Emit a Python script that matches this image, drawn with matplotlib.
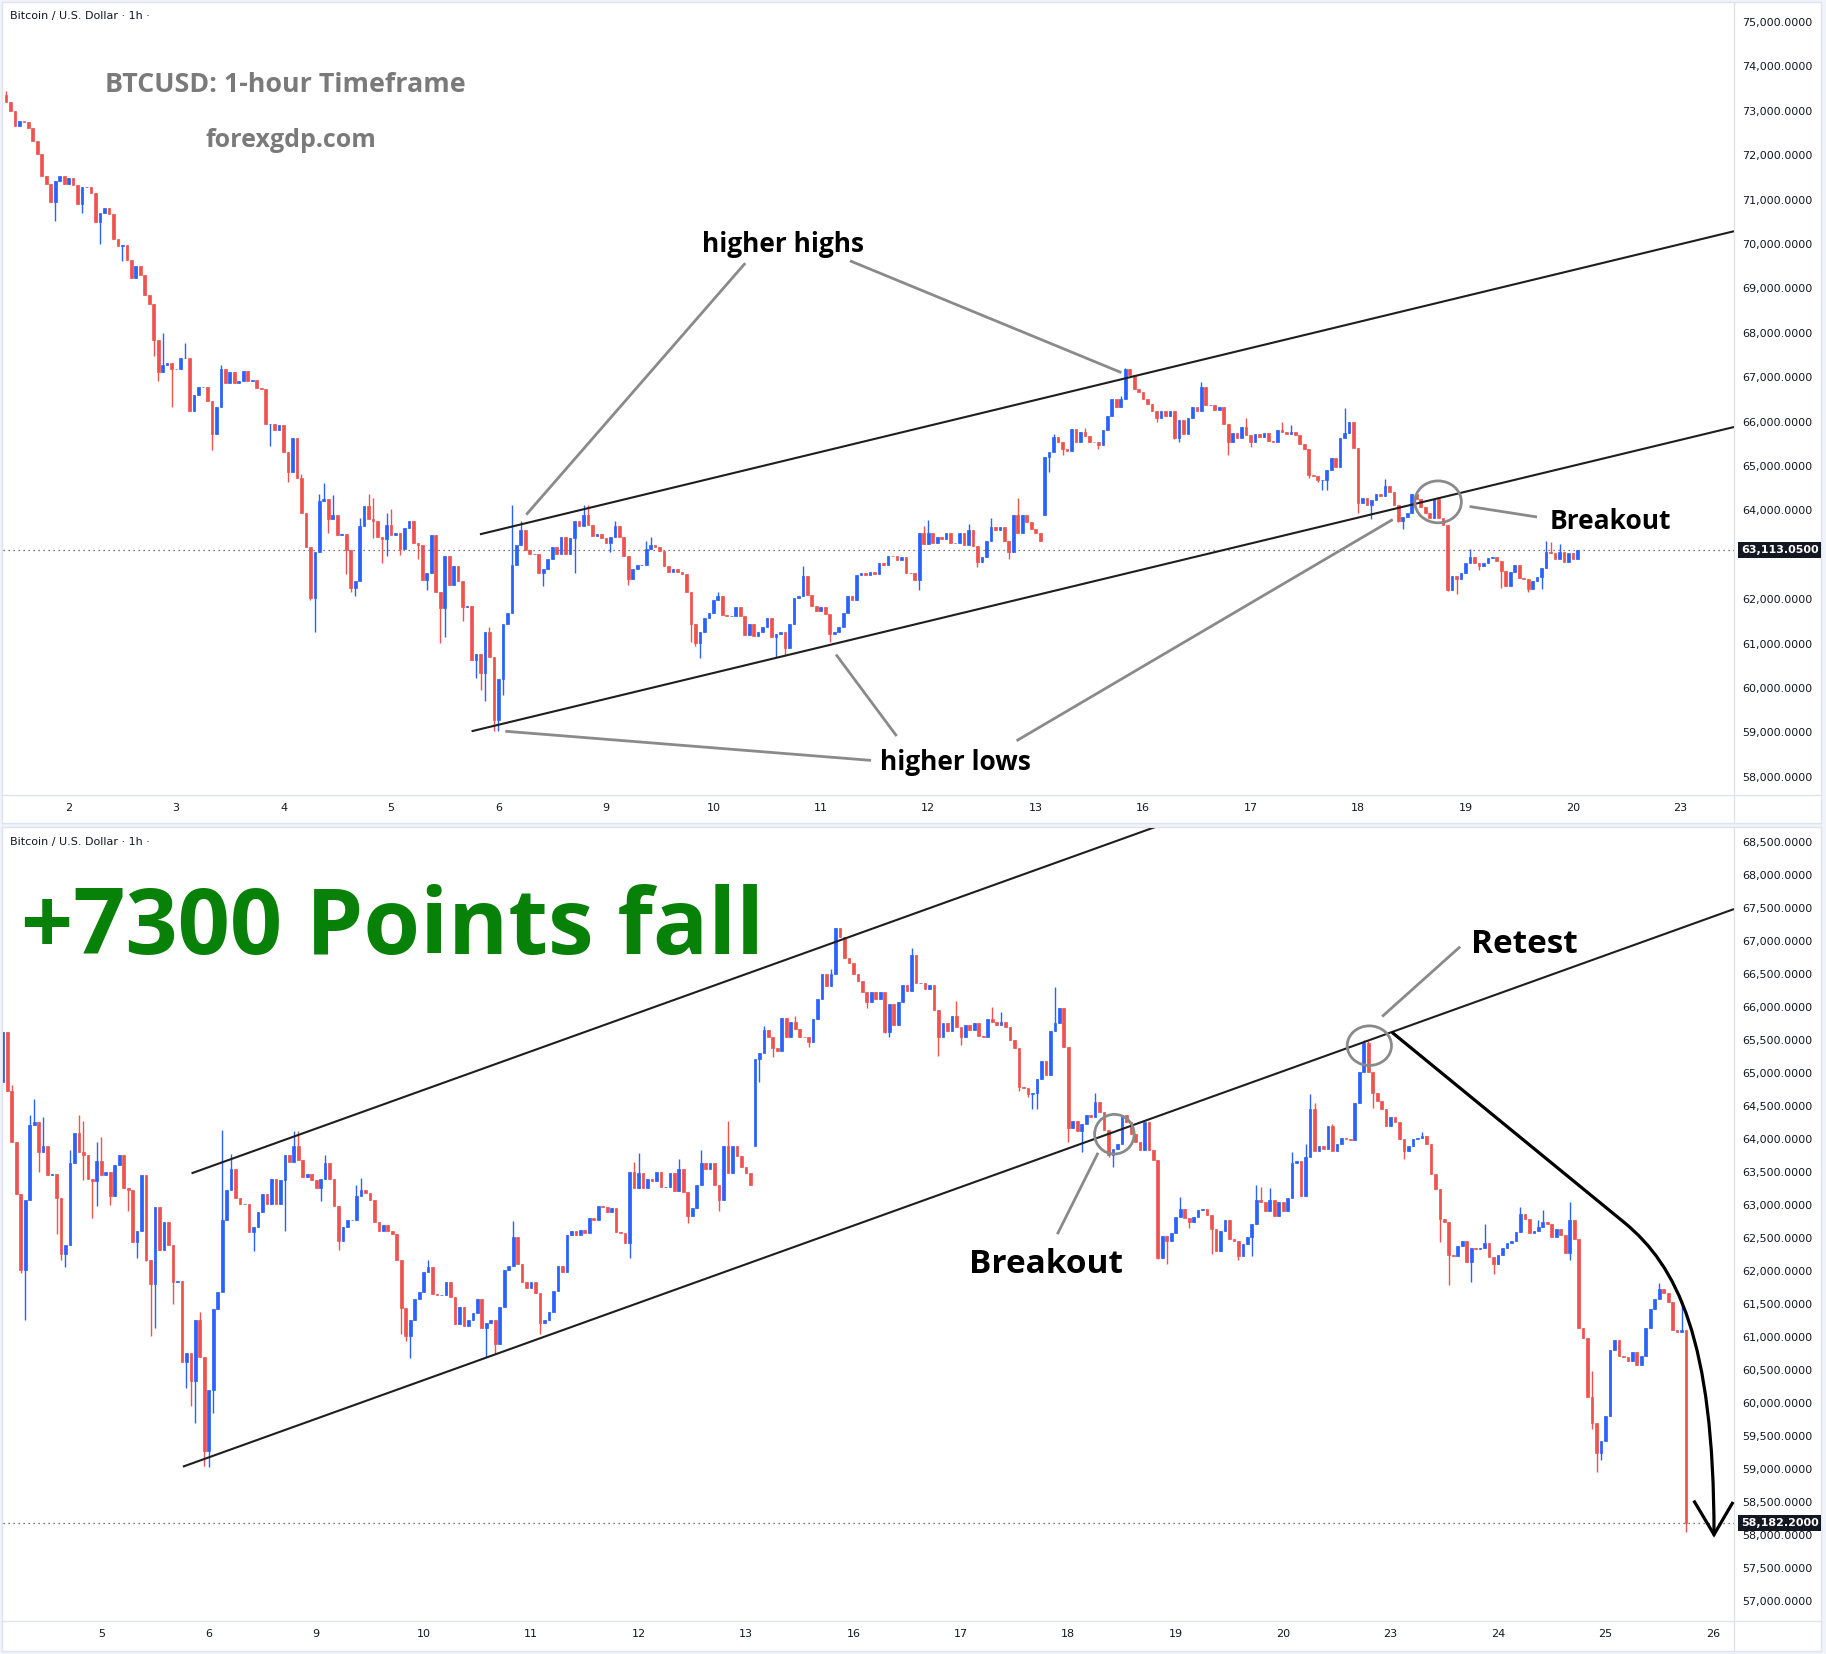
import numpy as np
import matplotlib.pyplot as plt
from matplotlib.patches import Ellipse, Rectangle, PathPatch
from matplotlib.lines import Line2D
from matplotlib.path import Path
from matplotlib.ticker import FuncFormatter

# hourly BTCUSD candles, prices in hundreds of USD
# hour 0 = midnight of the "2" on the top time axis
first_hour = -14
first_open = 733.6
closes = [
    732.0, 729.9, 726.6, 727.8, 727.6, 726.1, 723.2, 720.3, 715.3, 713.6,
    709.5, 714.2, 715.3, 713.6, 714.9, 713.2, 709.0, 712.8, 712.8, 711.4,
    705.0, 707.0, 708.2, 706.7, 701.1, 699.5, 699.7, 696.5, 692.4, 695.0,
    693.0, 688.6, 686.4, 678.4, 671.1, 672.8, 673.2, 671.9, 671.9, 674.4,
    674.4, 662.3, 666.1, 667.9, 667.9, 664.7, 657.2, 663.3, 671.9, 668.6,
    671.1, 668.6, 669.2, 671.5, 669.2, 669.4, 667.5, 667.3, 659.4, 659.4,
    658.2, 659.2, 653.2, 648.6,
    656.2, 647.3, 639.5, 631.7, 620.2, 630.7, 642.1, 642.6, 638.1, 639.0,
    634.5, 634.7, 631.0, 622.6, 624.0, 636.4, 640.9, 638.1, 637.5, 634.0,
    633.6, 636.6, 634.5, 635.0, 631.3, 636.1, 637.5, 632.6, 632.2, 624.4,
    626.0, 634.5, 621.7, 618.1, 629.7, 623.2, 627.4, 624.0, 618.3, 618.5,
    606.2, 607.6, 603.3, 612.6, 606.9, 592.8, 602.0, 614.3, 616.8, 627.7,
    632.3, 635.5, 631.1, 630.2, 630.2, 625.9, 626.7, 629.0, 631.7, 630.1,
    633.9, 630.1, 633.8, 637.5, 636.5, 638.9, 636.8, 634.2, 634.7, 633.8,
    632.6, 634.0, 636.4, 634.0, 629.8, 624.5, 626.7, 627.8, 627.8, 631.3,
    632.3, 631.8, 630.8, 627.4, 626.1, 626.9, 626.1, 625.6, 621.6, 614.4,
    610.1, 612.6, 615.8, 616.8, 619.9, 620.6, 616.5, 616.3, 616.3, 618.3,
    616.1, 611.9, 614.5, 611.7, 612.5, 613.7, 615.8, 611.4, 612.1, 612.6,
    609.0, 614.5, 620.2, 620.7, 625.2, 621.0, 618.4, 617.4, 618.3, 616.6,
    612.1, 612.5, 613.8, 616.9, 620.7, 619.9, 625.4, 626.0, 625.4, 626.2,
    625.7, 628.1, 627.8, 629.8, 629.7, 628.9, 629.6, 625.9, 625.8, 624.3,
    635.0, 632.5, 634.8, 632.6, 634.0, 633.6, 635.0, 632.7, 632.7, 634.8,
    632.1, 635.5, 631.9, 628.4, 629.6, 633.1, 636.3, 635.5, 636.3, 633.1,
    630.7, 638.9, 634.9, 638.9, 637.4, 635.8, 634.9, 633.0, 652.1, 653.1,
    656.5, 655.5, 653.8, 653.3, 658.4, 655.4, 657.7, 656.7, 655.5, 655.4,
    654.7, 658.2, 661.2, 665.0, 663.2, 665.0, 671.9, 670.6, 667.4, 666.7,
    665.0, 663.9, 662.3, 660.8, 662.3, 661.2, 662.3, 656.2, 660.4, 657.2,
    660.7, 663.3, 662.4, 667.9, 663.7, 663.7, 662.7, 663.4, 659.5, 655.4,
    657.5, 656.4, 658.7, 657.0, 655.5, 657.2, 656.5, 657.5, 655.6, 655.5,
    658.2, 657.7, 657.2, 657.7, 656.9, 655.0, 653.8, 647.9, 647.8, 646.8,
    646.9, 649.1, 651.8, 649.7, 656.4, 657.5, 659.9, 654.0, 641.7, 642.8,
    641.2, 642.3, 643.6, 643.3, 645.6, 644.1, 641.3, 637.5, 638.5, 639.3,
    643.6, 642.6, 640.7, 639.5, 638.3, 642.5, 638.3, 636.8, 622.0, 625.3,
    624.5, 625.8, 628.2, 629.4, 628.1, 627.4, 628.2, 629.2, 629.4, 628.5,
    626.3, 623.0, 626.1, 627.7, 624.8, 624.6, 622.3, 624.1, 625.1, 627.1,
    630.7, 630.5, 629.1, 630.7, 628.3, 630.5, 629.1, 631.1, 636.4, 636.6,
    631.4, 637.3, 644.5, 638.2, 638.9, 638.5, 641.9, 638.2, 639.2, 640.2,
    640.0, 639.9, 645.4, 650.2, 654.5, 650.2, 647.0, 645.7, 644.6, 641.9,
    643.4, 642.5, 640.0, 638.2, 638.9, 640.0, 640.2, 640.5, 639.2, 634.7,
    632.4, 627.9, 627.4, 622.4, 622.3, 623.8, 624.5, 621.3, 623.5, 623.3,
    623.5, 624.3, 622.1, 621.0, 622.4, 623.5, 624.3, 624.5, 625.9, 628.7,
    627.9, 625.7, 626.1, 626.7, 627.4, 627.1, 625.2, 626.4, 625.4, 622.8,
    627.8, 624.8, 611.4, 609.8, 600.9, 597.0, 592.4, 594.3, 598.0, 608.1,
    609.6, 607.1, 606.9, 606.4, 607.8, 605.8, 607.1, 611.4, 614.3, 615.7,
    617.3, 616.6, 615.3, 611.1, 610.8, 611.0, 581.8,
]
gap_open = {218: 639.0}
wick_high = {
    -14: 734.5, 21: 679.9, 26: 677.8, 34: 672.7, 52: 648.2, 56: 643.7,
    57: 646.1, 59: 643.4, 65: 638.3, 67: 643.7, 68: 642.7, 71: 639.5,
    72: 640.3, 94: 613.8, 99: 641.3, 101: 637.7, 115: 641.2, 116: 641.2,
    122: 637.6, 129: 633.1, 130: 634.1, 145: 621.6, 164: 627.5, 191: 636.5,
    192: 637.9, 201: 637.0, 206: 638.3, 212: 642.7, 220: 657.1, 227: 658.6,
    235: 665.7, 236: 672.0, 237: 671.8, 253: 669.0, 263: 660.9, 271: 660.0,
    273: 659.2, 285: 663.0, 294: 647.0, 313: 631.2, 330: 633.1, 331: 632.8,
    333: 632.5, 338: 638.0, 341: 639.3, 342: 646.8, 343: 645.4, 347: 642.3,
    354: 655.0, 355: 654.8, 367: 641.1, 381: 627.1, 389: 629.7, 393: 627.7,
    394: 629.2, 400: 630.5, 405: 604.9, 420: 618.2, 425: 615.6,
}
wick_low = {
    -3: 705.3, 3: 707.0, 7: 700.0, 12: 696.1, 19: 674.8, 20: 669.2,
    23: 663.3, 32: 653.6, 45: 654.4, 49: 646.5, 54: 619.7, 55: 612.5,
    58: 635.0, 62: 625.6, 63: 621.6, 64: 620.6, 68: 633.8, 70: 628.1,
    71: 629.8, 74: 630.0, 78: 629.1, 80: 622.0, 82: 621.5, 83: 610.2,
    84: 611.4, 88: 615.0, 91: 602.3, 92: 599.5, 93: 597.0, 95: 590.4,
    96: 590.3, 97: 598.5, 106: 623.0, 113: 626.0, 121: 630.6, 125: 623.2,
    139: 610.4, 140: 609.4, 141: 606.8, 158: 606.9, 160: 607.4, 170: 610.4,
    190: 622.0, 203: 627.2, 210: 629.1, 219: 648.6, 222: 652.4, 230: 653.9,
    243: 659.9, 247: 656.0, 248: 655.5, 259: 652.5, 264: 654.3, 277: 647.3,
    279: 646.4, 280: 644.5, 281: 644.6, 288: 639.5, 291: 638.0, 297: 637.3,
    298: 635.8, 308: 621.8, 310: 621.1, 315: 626.5, 320: 622.6, 326: 621.7,
    329: 622.2, 338: 633.8, 341: 631.8, 356: 644.7, 363: 636.9, 371: 624.4,
    373: 617.9, 378: 618.3, 383: 619.5, 400: 621.6, 405: 596.0, 406: 589.5,
    407: 591.4, 426: 580.5,
}

top_last_hour = 337
top_last_price = 63113.05
bottom_last_price = 58182.20

top_day_labels = ['2', '3', '4', '5', '6', '9', '10', '11', '12', '13',
                  '16', '17', '18', '19', '20', '23']
bottom_day_labels = ['5', '6', '9', '10', '11', '12', '13', '16', '17', '18',
                     '19', '20', '23', '24', '25', '26']
# 63,000 sits under the last-price tag in the top pane
top_price_ticks = [p for p in range(58000, 75001, 1000) if p != 63000]
bottom_price_ticks = list(range(57000, 68501, 500))

BLUE = '#2962ff'
RED = '#ef5350'
TXT = '#131722'
SEP = '#e0e3eb'
GRAY = '#8a8a8a'
W, H = 1826, 1654

hours = np.arange(first_hour, first_hour + len(closes))
x = hours / 24.0
c = np.array(closes) * 100
o = np.r_[first_open, closes[:-1]] * 100
for h, v in gap_open.items():
    o[h - first_hour] = v * 100
hi = np.maximum(o, c)
lo = np.minimum(o, c)
for h, v in wick_high.items():
    hi[h - first_hour] = max(hi[h - first_hour], v * 100)
for h, v in wick_low.items():
    lo[h - first_hour] = min(lo[h - first_hour], v * 100)
col = np.where(c >= o, BLUE, RED)

fig = plt.figure(figsize=(W / 100, H / 100), dpi=100, facecolor='#f0f3fa')


def px(xp, yp):
    return xp / W, 1 - yp / H


def frac(x0, y0, x1, y1):
    return [x0 / W, 1 - y1 / H, (x1 - x0) / W, (y1 - y0) / H]


# panel backgrounds and separators
for y0, y1 in [(2, 823), (827, 1651)]:
    fig.add_artist(Rectangle(px(2, y1), 1819 / W, (y1 - y0) / H, transform=fig.transFigure,
                             facecolor='white', edgecolor=SEP, lw=1, zorder=-5))
for (xa, ya), (xb, yb) in [((1734, 3), (1734, 822)), ((1734, 828), (1734, 1650)),
                           ((3, 795), (1820, 795)), ((3, 1621), (1820, 1621))]:
    fig.add_artist(Line2D([xa / W, xb / W], [1 - ya / H, 1 - yb / H],
                          transform=fig.transFigure, color=SEP, lw=1, zorder=-4))


def panel(rect, xlim, ylim, xticks, xlabels, yticks):
    ax = fig.add_axes(rect)
    ax.set_xlim(xlim)
    ax.set_ylim(ylim)
    ax.set_facecolor('none')
    for s in ax.spines.values():
        s.set_visible(False)
    ax.yaxis.tick_right()
    ax.set_yticks(yticks)
    ax.yaxis.set_major_formatter(FuncFormatter(lambda v, p: f'{v:,.4f}'))
    ax.set_xticks(xticks)
    ax.set_xticklabels(xlabels)
    ax.tick_params(axis='y', length=0, pad=6, labelsize=8, labelcolor=TXT)
    ax.tick_params(axis='x', length=0, pad=6, labelsize=8, labelcolor=TXT)
    return ax


def draw_candles(ax, sel):
    ax.vlines(x[sel], lo[sel], hi[sel], colors=col[sel], linewidth=1.0, zorder=2)
    ax.bar(x[sel], np.abs(c - o)[sel], bottom=np.minimum(o, c)[sel], width=0.6 / 24,
           color=col[sel], edgecolor=col[sel], linewidth=0.5, zorder=3)


def price_tag(ax, price):
    ax.axhline(price, color='#4a4a4a', lw=0.9, ls=(0, (1, 3)), zorder=1)
    ax.text(1.004, price, f'{price:,.4f}', transform=ax.get_yaxis_transform(),
            ha='left', va='center', fontsize=8, color='white', fontweight='bold',
            bbox=dict(boxstyle='square,pad=0.25', fc=TXT, ec='none'),
            clip_on=False, zorder=10)


def seg(ax, p0, p1, color=GRAY, lw=2.0):
    ax.plot([p0[0], p1[0]], [p0[1], p1[1]], color=color, lw=lw, zorder=5,
            solid_capstyle='butt')


# ---------------- top panel ----------------
ax1 = panel(frac(3, 3, 1734, 795), (-0.611, 15.499), (57588, 75430),
            np.arange(len(top_day_labels)), top_day_labels, top_price_ticks)
draw_candles(ax1, hours <= top_last_hour)
price_tag(ax1, top_last_price)

seg(ax1, (3.828, 63461), (15.499, 63461 + 585 * (15.499 - 3.828)), color='#1e1e1e', lw=1.5)
seg(ax1, (3.75, 59024), (15.499, 65878), color='#1e1e1e', lw=1.5)
seg(ax1, (6.297, 69570), (4.259, 63904))
seg(ax1, (7.272, 69622), (9.797, 67104))
seg(ax1, (7.467, 58368), (4.064, 59024))
seg(ax1, (7.142, 60752), (7.706, 58916))
seg(ax1, (8.822, 58810), (12.323, 63794))
seg(ax1, (13.038, 64087), (13.666, 63851))
ax1.add_patch(Ellipse((12.745, 64192), 0.4335, 944, fill=False, ec=GRAY, lw=2, zorder=5))

# ---------------- bottom panel ----------------
ax2 = panel(frac(3, 828, 1734, 1621), (2.085, 18.196), (56697, 68712),
            np.arange(3, 3 + len(bottom_day_labels)), bottom_day_labels, bottom_price_ticks)
draw_candles(ax2, hours >= 48)
price_tag(ax2, bottom_last_price)

seg(ax2, (3.84, 63480), (13.5, 63480 + 585 * (13.5 - 3.84)), color='#1e1e1e', lw=1.5)
seg(ax2, (3.759, 59035), (18.196, 67484), color='#1e1e1e', lw=1.5)
ax2.add_patch(Ellipse((12.429, 64073), 0.368, 600, fill=False, ec=GRAY, lw=2, zorder=5))
seg(ax2, (12.277, 63791), (11.898, 62557))
ax2.add_patch(Ellipse((14.802, 65414), 0.412, 600, fill=False, ec=GRAY, lw=2, zorder=5))
seg(ax2, (14.921, 65855), (15.647, 66914))

# projected fall: straight run from the retest, then a bend straight down
arrow_path = Path([(15.019, 65608), (17.176, 62733), (17.664, 62078),
                   (18.010, 60969), (18.010, 58007)],
                  [Path.MOVETO, Path.LINETO, Path.CURVE4, Path.CURVE4, Path.CURVE4])
ax2.add_patch(PathPatch(arrow_path, fill=False, ec='black', lw=2.3, zorder=6,
                        capstyle='round'))
ax2.plot([17.829, 18.010, 18.180], [58501, 58007, 58480], color='black', lw=2.3,
         zorder=6, solid_joinstyle='miter', clip_on=False)

# ---------------- texts ----------------
for yp in (16, 842):
    fig.text(*px(10, yp), 'Bitcoin / U.S. Dollar \u00b7 1h \u00b7', fontsize=8,
             color=TXT, va='center', ha='left')

bold = dict(family=['Open Sans', 'DejaVu Sans'], fontweight='bold', ha='center', va='center')
fig.text(*px(285, 85), 'BTCUSD: 1-hour Timeframe', fontsize=19.4, color='#7a7a7a', **bold)
fig.text(*px(291, 140.8), 'forexgdp.com', fontsize=18, color='#7a7a7a', **bold)
fig.text(*px(782.5, 244.5), 'higher highs', fontsize=19, color='black', **bold)
fig.text(*px(955, 762.6), 'higher lows', fontsize=19, color='black', **bold)
fig.text(*px(1610.5, 521.6), 'Breakout', fontsize=19, color='black', **bold)
fig.text(*px(392.4, 930), '+7300 Points fall', fontsize=66, color='#078107', **bold)
fig.text(*px(1524.3, 944.5), 'Retest', fontsize=24, color='black', **bold)
fig.text(*px(1045.7, 1264.7), 'Breakout', fontsize=24, color='black', **bold)

fig.savefig('out.png', dpi=100, facecolor=fig.get_facecolor())
